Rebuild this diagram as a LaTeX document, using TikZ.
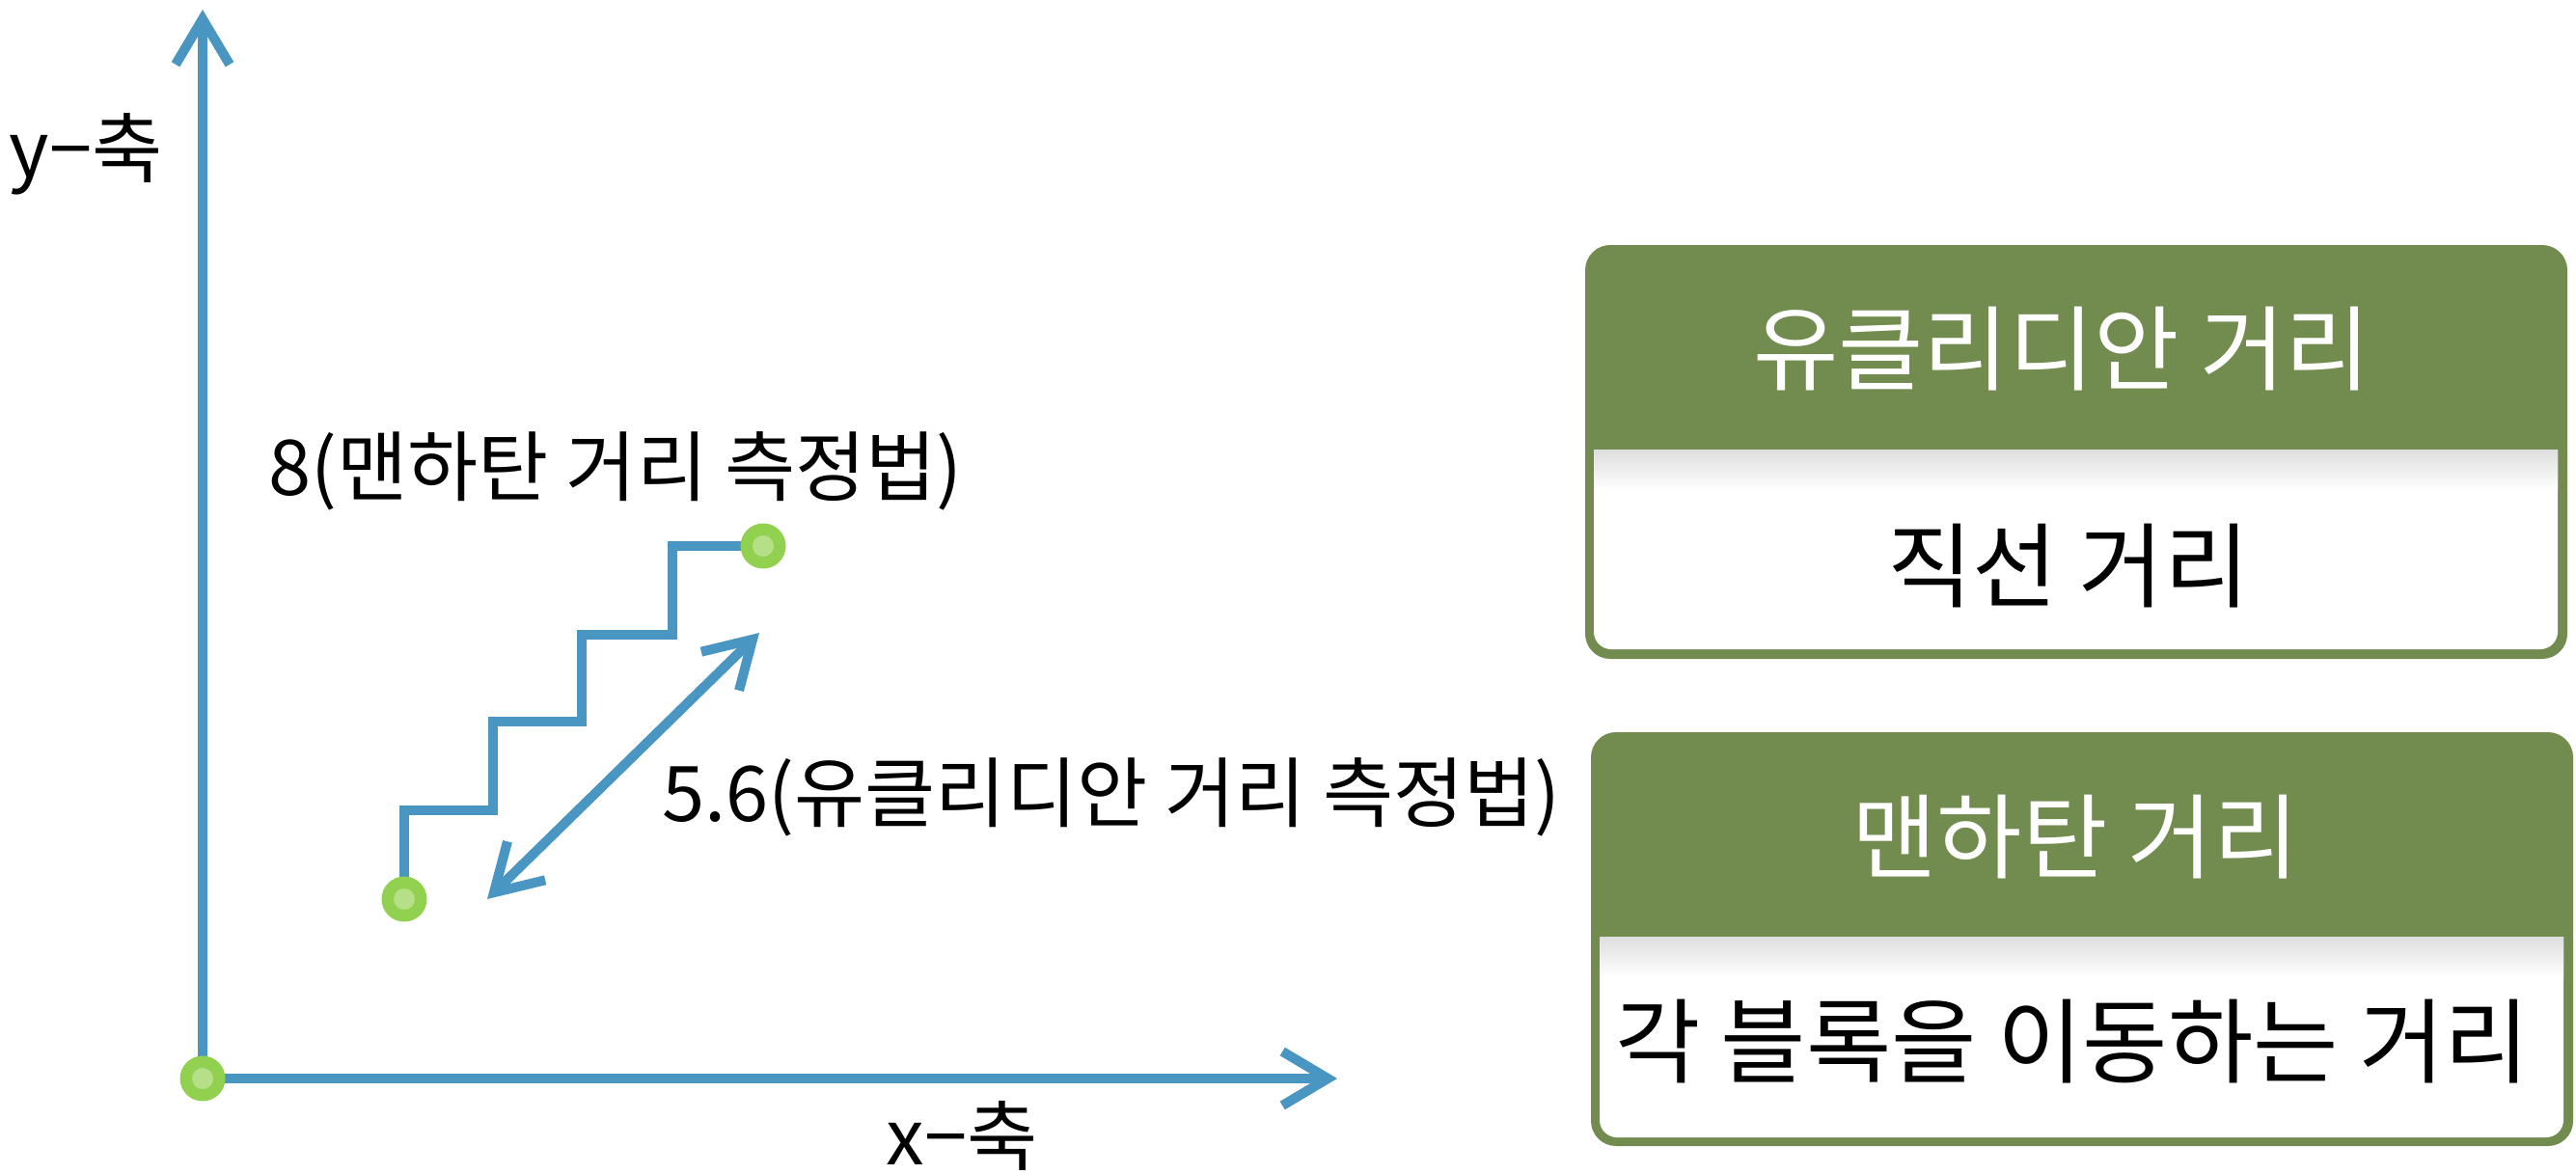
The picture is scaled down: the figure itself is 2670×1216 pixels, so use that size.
\documentclass[tikz,border=0pt]{standalone}
\usepackage{fontspec}
\newfontfamily\kr{Noto Sans CJK KR}
\usetikzlibrary{arrows.meta}
\definecolor{axisblue}{RGB}{73,150,194}
\definecolor{dotgreen}{RGB}{146,208,80}
\definecolor{dotlight}{RGB}{182,224,135}
\definecolor{boxgreen}{RGB}{114,140,79}
\tikzset{barbtip/.tip={Straight Barb[length=47pt,width=56pt]}}
\begin{document}
\begin{tikzpicture}[x=1pt,y=-1pt,
  axisline/.style={draw=axisblue, line width=10pt},
  dot/.style={circle, fill=dotgreen, minimum size=47pt, inner sep=0pt,
    path picture={\fill[dotlight] (path picture bounding box.center) circle (11pt);}},
  lbl/.style={font=\kr\fontsize{79.5}{84}\selectfont, inner sep=0pt, text=black},
  title/.style={font=\kr\fontsize{96}{102}\selectfont, inner sep=0pt, text=white},
  body/.style={font=\kr\fontsize{96}{102}\selectfont, inner sep=0pt, text=black}]
\useasboundingbox (0,0) rectangle (2670,1216);
\fill[white] (0,0) rectangle (2670,1216);

% coordinates
\coordinate (oc) at (210,1118);
\coordinate (ytip) at (210,10);
\coordinate (xtip) at (1386,1118);
\coordinate (pc) at (419,932);
\coordinate (qc) at (791,566);
\coordinate (e1) at (505,932);
\coordinate (e2) at (787,656);

% axes
\draw[axisline, -{barbtip}] (oc) -- (ytip);
\draw[axisline, -{barbtip}] (oc) -- (xtip);

% staircase (Manhattan)
\draw[axisline, line join=miter] (pc) -- (419,840) -- (511,840) -- (511,748)
  -- (603,748) -- (603,658) -- (697,658) -- (697,566) -- (qc);

% diagonal (Euclidean)
\draw[axisline, {barbtip}-{barbtip}] (e1) -- (e2);

% dots
\node[dot] (o) at (oc) {};
\node[dot] (p) at (pc) {};
\node[dot] (q) at (qc) {};

% labels
\node[lbl] (ylab) at (89,160) {y−축};
\node[lbl] (xlab) at (997,1177) {x−축};
\node[lbl] (mlab) at (638,488) {8(맨하탄 거리 측정법)};
\node[lbl] (elab) at (1152,826) {5.6(유클리디안 거리 측정법)};

% box 1
\fill[boxgreen, rounded corners=26pt] (1643,254) rectangle (2661,683);
\fill[white, rounded corners=18pt] (1652,430) rectangle (2651,673);
\fill[boxgreen] (1643,420) rectangle (2661,466);
\shade[top color=black!13, bottom color=white] (1652,466) rectangle (2651,508);
\node[title] (t1) at (2137,362) {유클리디안 거리};
\node[body] (b1) at (2144,587) {직선 거리};

% box 2
\fill[boxgreen, rounded corners=26pt] (1649,759) rectangle (2667,1188);
\fill[white, rounded corners=18pt] (1658,940) rectangle (2657,1179);
\fill[boxgreen] (1649,930) rectangle (2667,971);
\shade[top color=black!13, bottom color=white] (1658,971) rectangle (2657,1013);
\node[title] (t2) at (2151,868) {맨하탄 거리};
\node[body] (b2) at (2148,1080) {각 블록을 이동하는 거리};
\end{tikzpicture}
\end{document}
